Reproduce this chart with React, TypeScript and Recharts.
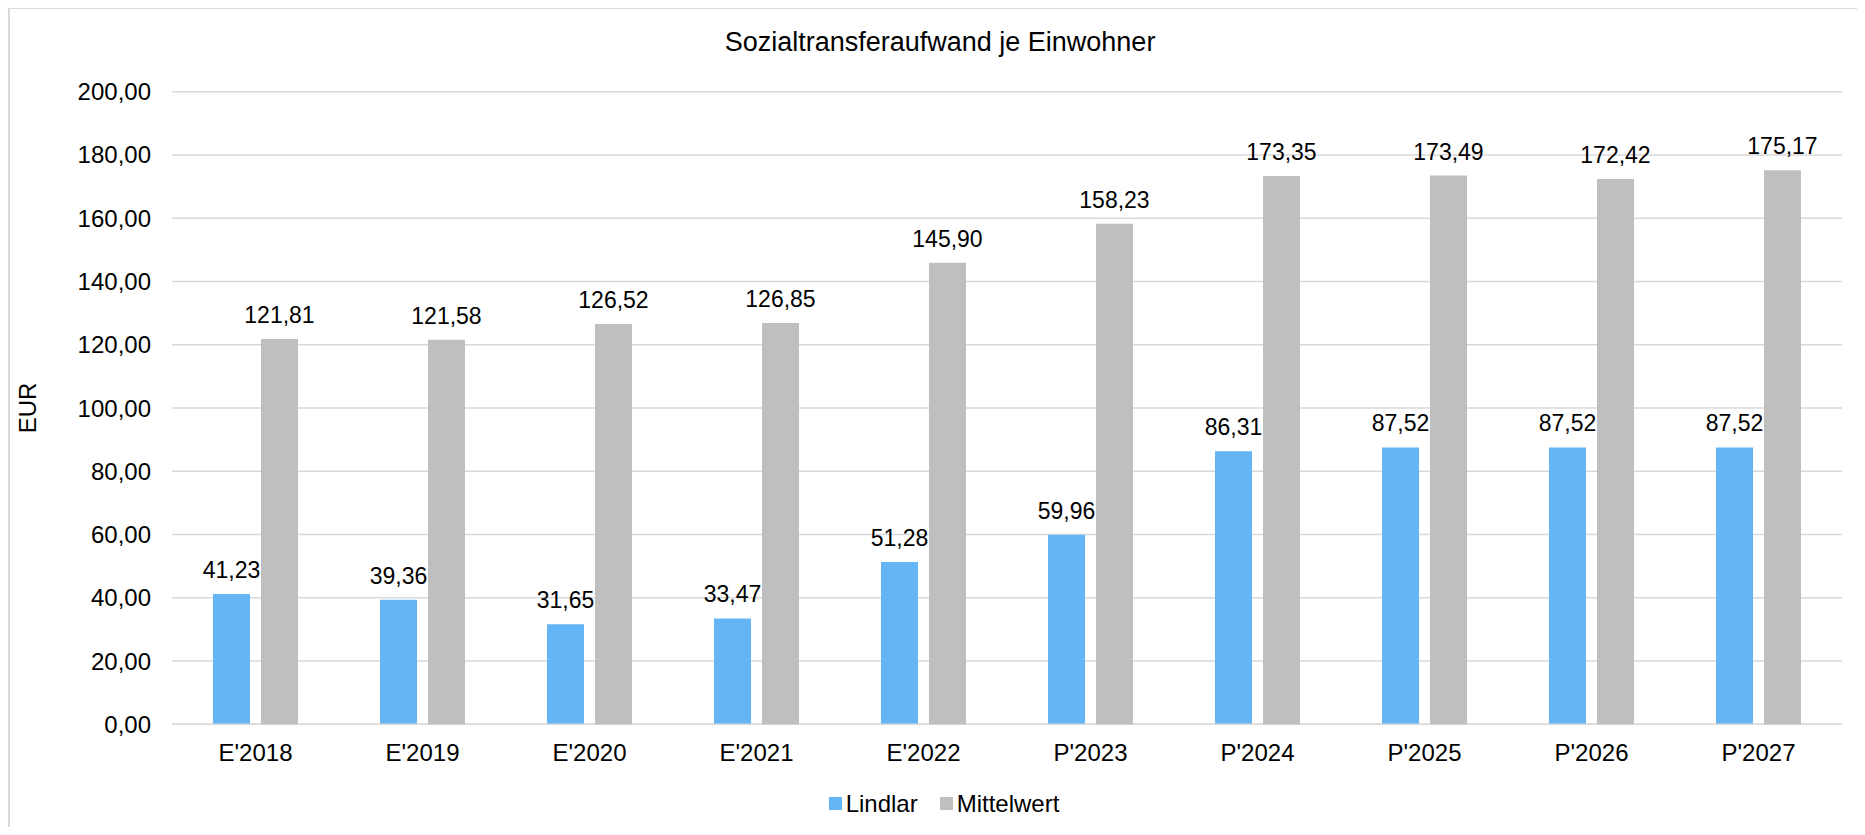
import { Bar, BarChart, CartesianGrid, LabelList, Legend, XAxis, YAxis } from 'recharts';

const jahre = ["E'2018", "E'2019", "E'2020", "E'2021", "E'2022", "P'2023", "P'2024", "P'2025", "P'2026", "P'2027"];
const lindlar = [41.23, 39.36, 31.65, 33.47, 51.28, 59.96, 86.31, 87.52, 87.52, 87.52];
const mittelwert = [121.81, 121.58, 126.52, 126.85, 145.9, 158.23, 173.35, 173.49, 172.42, 175.17];
const yTicks = [0, 20, 40, 60, 80, 100, 120, 140, 160, 180, 200];

const data = jahre.map((jahr, i) => ({ jahr, lindlar: lindlar[i], mittelwert: mittelwert[i] }));

const FONT = '"Liberation Sans", Arial, sans-serif';
const BLAU = '#64b5f6';
const GRAU = '#bfbfbf';
const RASTER = '#d9d9d9';

const fmt = (v: number) => v.toFixed(2).replace('.', ',');

function LegendeInhalt() {
  const items = [
    { name: 'Lindlar', color: BLAU },
    { name: 'Mittelwert', color: GRAU },
  ];
  return (
    <div style={{ display: 'flex', justifyContent: 'center', alignItems: 'center', height: 28, fontFamily: FONT, fontSize: 24, color: '#000' }}>
      {items.map((it, i) => (
        <div key={it.name} style={{ display: 'flex', alignItems: 'center', marginLeft: i ? 22 : 0 }}>
          <span style={{ width: 13, height: 13, background: it.color, marginRight: 4, display: 'inline-block' }} />
          <span>{it.name}</span>
        </div>
      ))}
    </div>
  );
}

export default function App() {
  return (
    <div
      style={{
        position: 'relative',
        width: 1849,
        height: 828,
        marginTop: -1,
        marginBottom: -8,
        boxSizing: 'border-box',
        borderLeft: `2px solid ${RASTER}`,
        borderTop: `2px solid ${RASTER}`,
        background: '#fff',
        fontFamily: FONT,
      }}
    >
      <div
        style={{
          position: 'absolute',
          left: 630,
          width: 600,
          top: 20,
          textAlign: 'center',
          fontSize: 27,
          lineHeight: '27px',
          color: '#000',
          zIndex: 1,
        }}
      >
        Sozialtransferaufwand je Einwohner
      </div>
      <BarChart
        width={1847}
        height={817}
        data={data}
        margin={{ top: 82.7, right: 15, bottom: 61.7, left: 0 }}
        barSize={37}
        barGap={11}
        style={{ fontFamily: FONT }}
      >
        <CartesianGrid vertical={false} stroke={RASTER} strokeWidth={1.5} />
        <XAxis
          dataKey="jahr"
          height={40}
          axisLine={{ stroke: RASTER, strokeWidth: 1.5 }}
          tickLine={false}
          tickSize={0}
          tickMargin={20}
          tick={{ fill: '#000', fontSize: 24, fontFamily: FONT }}
          interval={0}
        />
        <YAxis
          width={162}
          domain={[0, 200]}
          ticks={yTicks}
          axisLine={false}
          tickLine={false}
          tickSize={0}
          tickMargin={21}
          tickFormatter={fmt}
          tick={{ fill: '#000', fontSize: 24, fontFamily: FONT }}
          label={{ value: 'EUR', angle: -90, position: 'center', dx: -64, fill: '#000', fontSize: 24, fontFamily: FONT }}
        />
        <Legend
          layout="horizontal"
          verticalAlign="middle"
          align="center"
          content={<LegendeInhalt />}
          wrapperStyle={{ top: 780.5, left: 784, width: 300 }}
        />
        <Bar dataKey="lindlar" name="Lindlar" fill={BLAU} isAnimationActive={false}>
          <LabelList dataKey="lindlar" position="top" offset={16} formatter={(v: any) => fmt(Number(v))} fill="#000" fontSize={23} fontFamily={FONT} />
        </Bar>
        {/* grey bars sit above the label layer, so they cover the wider blue labels */}
        <Bar dataKey="mittelwert" name="Mittelwert" fill={GRAU} isAnimationActive={false} zIndex={2100}>
          <LabelList dataKey="mittelwert" position="top" offset={16} formatter={(v: any) => fmt(Number(v))} fill="#000" fontSize={23} fontFamily={FONT} />
        </Bar>
      </BarChart>
    </div>
  );
}
